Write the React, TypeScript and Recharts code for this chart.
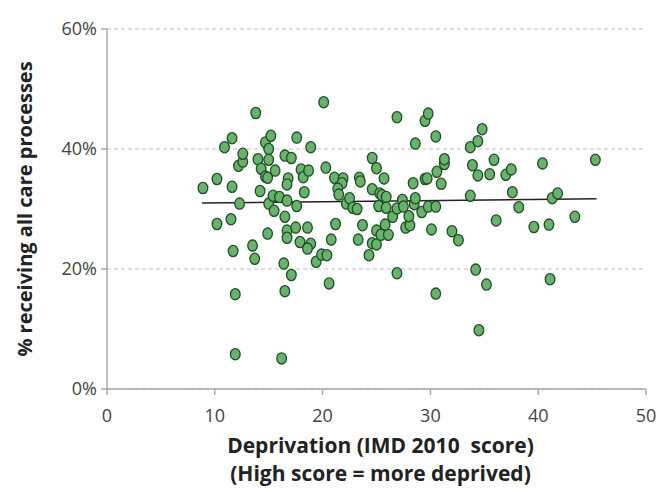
import React from 'react';
import { ScatterChart, Scatter, XAxis, YAxis, CartesianGrid } from 'recharts';

// IMD 2010 deprivation score of each practice
const deprivationScores: number[] = [
  8.9, 10.2, 10.2, 10.9, 11.5, 11.6, 11.6, 11.7, 11.9, 11.9,
  12.2, 12.6, 12.6, 12.3, 13.5, 13.8, 13.7, 14.0, 14.3, 14.2,
  14.7, 14.7, 14.9, 15.0, 15.2, 15.0, 14.9, 15.0, 15.4, 15.5,
  15.6, 16.0, 16.5, 17.1, 16.8, 16.7, 16.7, 16.5, 16.7, 16.7,
  16.4, 17.1, 16.5, 16.2, 17.6, 17.6, 17.5, 18.0, 18.2, 18.7,
  18.9, 18.3, 18.6, 17.9, 18.9, 18.6, 19.4, 19.9, 20.4, 20.6,
  20.1, 20.3, 20.8, 21.2, 21.1, 21.9, 21.8, 21.4, 21.5, 22.2,
  22.5, 22.8, 23.2, 23.4, 23.5, 23.3, 23.7, 24.3, 24.6, 25.0,
  24.6, 24.6, 25.0, 25.7, 25.3, 25.5, 25.9, 25.2, 25.9, 25.0,
  25.4, 26.1, 25.8, 26.5, 26.9, 26.9, 26.9, 27.4, 27.5, 27.7,
  28.1, 28.0, 28.4, 28.5, 28.6, 28.6, 29.2, 29.5, 29.7, 29.5,
  29.8, 29.8, 30.1, 30.5, 30.5, 30.6, 31.0, 31.3, 31.3, 30.5,
  32.0, 32.6, 33.7, 33.7, 33.9, 34.4, 34.8, 34.4, 34.2, 34.5,
  35.2, 35.5, 35.9, 36.1, 37.0, 37.5, 37.6, 38.2, 39.6, 40.4,
  41.0, 41.1, 41.3, 41.8, 43.4, 45.3,
];

// % of patients receiving all care processes
const careProcessPct: number[] = [
  33.5, 35.0, 27.5, 40.3, 28.3, 41.8, 33.7, 23.0, 15.8, 5.8,
  37.2, 37.9, 39.2, 30.9, 23.9, 46.0, 21.7, 38.3, 36.7, 33.0,
  41.1, 35.4, 35.2, 40.0, 42.2, 38.2, 25.9, 30.9, 32.2, 29.7,
  36.4, 32.0, 38.9, 38.5, 35.1, 34.1, 31.4, 28.7, 26.4, 25.2,
  20.9, 19.0, 16.3, 5.1, 41.9, 30.5, 26.9, 36.6, 35.3, 36.4,
  40.3, 32.8, 26.9, 24.5, 24.2, 23.4, 21.2, 22.4, 22.3, 17.6,
  47.8, 36.9, 24.9, 27.5, 35.2, 35.1, 34.3, 33.4, 32.4, 30.9,
  31.8, 30.2, 30.0, 35.2, 34.6, 24.9, 27.3, 22.3, 24.3, 24.1,
  33.3, 38.5, 36.8, 35.1, 32.6, 32.3, 32.0, 30.5, 30.2, 26.4,
  25.7, 25.7, 27.4, 28.7, 30.1, 45.3, 19.3, 31.5, 30.4, 26.9,
  27.3, 28.8, 34.3, 30.8, 31.8, 40.9, 29.5, 35.0, 35.1, 44.7,
  45.9, 30.4, 26.6, 30.4, 42.1, 36.2, 34.2, 37.5, 38.3, 15.9,
  26.3, 24.8, 32.2, 40.3, 37.3, 41.3, 43.3, 35.6, 19.9, 9.8,
  17.4, 35.8, 38.2, 28.1, 35.7, 36.6, 32.8, 30.3, 27.0, 37.6,
  27.4, 18.3, 31.8, 32.6, 28.7, 38.2,
];

// Linear trend line end points
const trendX: number[] = [8.8, 45.4];
const trendY: number[] = [31.0, 31.7];

const xTicks: number[] = [0, 10, 20, 30, 40, 50];
const yTicks: number[] = [0, 20, 40, 60];

const xTitleLines: string[] = ['Deprivation (IMD 2010  score)', '(High score = more deprived)'];
const yTitle = '% receiving all care processes';

const points = deprivationScores.map((x, i) => ({ x, y: careProcessPct[i] }));
const trend = trendX.map((x, i) => ({ x, y: trendY[i] }));

const FONT = '"Open Sans", "Noto Sans", sans-serif';

const Dot = (props: any) => {
  const { cx, cy } = props;
  if (cx == null || cy == null) return <g />;
  return <ellipse cx={cx} cy={cy} rx={4.8} ry={5.6} fill="#69b26b" stroke="#1e4d27" strokeWidth={1.3} />;
};

const XTitle = (props: any) => {
  const vb = props.viewBox || {};
  const cx = (vb.x ?? 0) + (vb.width ?? 0) / 2 + 4;
  return (
    <text
      x={cx}
      textAnchor="middle"
      fontFamily={FONT}
      fontWeight={700}
      fontSize={21}
      fill="#222"
      style={{ whiteSpace: 'pre' }}
    >
      <tspan x={cx} y={453}>{xTitleLines[0]}</tspan>
      <tspan x={cx} y={481}>{xTitleLines[1]}</tspan>
    </text>
  );
};

const YTitle = (props: any) => {
  const vb = props.viewBox || {};
  const cy = (vb.y ?? 0) + (vb.height ?? 0) / 2;
  const x = 24;
  return (
    <text
      x={x}
      y={cy}
      transform={`rotate(-90, ${x}, ${cy})`}
      textAnchor="middle"
      dominantBaseline="central"
      fontFamily={FONT}
      fontWeight={700}
      fontSize={20}
      fill="#222"
    >
      {yTitle}
    </text>
  );
};

export default function App() {
  return (
    <div style={{ position: 'absolute', left: 0, top: 0, background: '#fff' }}>
      <ScatterChart width={659} height={488} margin={{ top: 29, right: 13, bottom: 0, left: 0 }}>
        <CartesianGrid vertical={false} stroke="#bdbdbd" strokeDasharray="4 3" />
        <XAxis
          type="number"
          dataKey="x"
          domain={[0, 50]}
          ticks={xTicks}
          interval={0}
          height={99}
          tickSize={6}
          tickMargin={14}
          axisLine={{ stroke: '#a9a9a9', strokeWidth: 1.5 }}
          tickLine={{ stroke: '#a9a9a9', strokeWidth: 1.5 }}
          tick={{ fill: '#444', fontSize: 18, fontFamily: FONT }}
          label={<XTitle />}
        />
        <YAxis
          type="number"
          dataKey="y"
          domain={[0, 60]}
          ticks={yTicks}
          interval={0}
          width={107}
          tickSize={6}
          tickMargin={4}
          tickFormatter={(v: number) => `${v}%`}
          axisLine={{ stroke: '#a9a9a9', strokeWidth: 1.5 }}
          tickLine={{ stroke: '#a9a9a9', strokeWidth: 1.5 }}
          tick={{ fill: '#444', fontSize: 18, fontFamily: FONT }}
          label={<YTitle />}
        />
        <Scatter
          data={trend}
          isAnimationActive={false}
          line={{ stroke: '#222', strokeWidth: 1.5 }}
          shape={() => <g />}
        />
        <Scatter data={points} isAnimationActive={false} shape={<Dot />} />
      </ScatterChart>
    </div>
  );
}
